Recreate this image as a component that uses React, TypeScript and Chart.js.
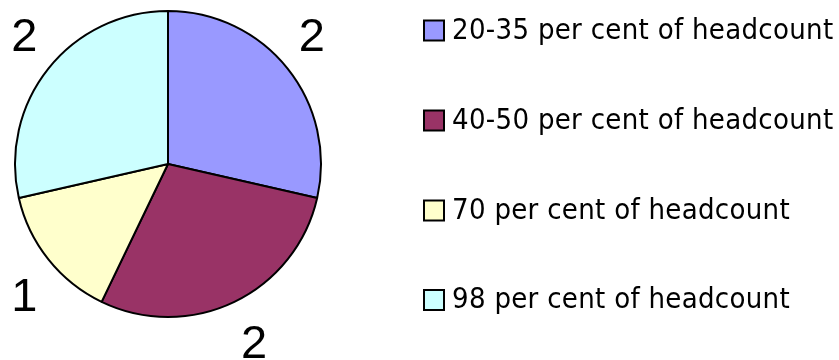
import React, { useEffect, useRef } from "react";
import { Chart, registerables } from "chart.js";

Chart.register(...registerables);

const categories = [
  "20-35 per cent of headcount",
  "40-50 per cent of headcount",
  "70 per cent of headcount",
  "98 per cent of headcount",
];
const values = [2, 2, 1, 2];
const colors = ["#9999FF", "#993366", "#FFFFCC", "#CCFFFF"];

const labelPlugin = {
  id: "outerLabels",
  afterDatasetsDraw(chart: any) {
    const ctx = chart.ctx;
    const meta = chart.getDatasetMeta(0);
    ctx.save();
    ctx.fillStyle = "#000";
    ctx.font = '47px "Liberation Sans", Arial, sans-serif';
    ctx.textAlign = "center";
    ctx.textBaseline = "alphabetic";
    const g = 13;
    const w = 28;
    const h = 54;
    meta.data.forEach((arc: any, i: number) => {
      const { x, y, startAngle, endAngle, outerRadius } = arc.getProps(
        ["x", "y", "startAngle", "endAngle", "outerRadius"],
        true
      );
      const mid = (startAngle + endAngle) / 2;
      const ux = Math.cos(mid);
      const uy = Math.sin(mid);
      const px = x + ux * (outerRadius + g) + Math.sign(ux) * (w / 2);
      const py = y + uy * (outerRadius + g) + Math.sign(uy) * (h / 2);
      ctx.fillText(String(values[i]), px, py + 17);
    });
    ctx.restore();
  },
};

const legendPlugin = {
  id: "customLegend",
  afterDraw(chart: any) {
    const ctx = chart.ctx;
    const ds = chart.data.datasets[0];
    const x0 = 424;
    const ys = [30.5, 120.5, 210.5, 300];
    const box = 20;
    ctx.save();
    ctx.font = '29px "DejaVu Sans Condensed", "DejaVu Sans", sans-serif';
    try {
      (ctx as any).letterSpacing = "0.3px";
    } catch (e) {}
    ctx.textBaseline = "alphabetic";
    chart.data.labels.forEach((lab: string, i: number) => {
      const cy = ys[i];
      ctx.fillStyle = ds.backgroundColor[i];
      ctx.fillRect(x0, cy - box / 2, box, box);
      ctx.strokeStyle = "#000";
      ctx.lineWidth = 2;
      ctx.strokeRect(x0, cy - box / 2, box, box);
      ctx.fillStyle = "#000";
      ctx.fillText(lab, 452, cy + 8);
    });
    ctx.restore();
  },
};

export default function App() {
  const ref = useRef<HTMLCanvasElement>(null);
  useEffect(() => {
    if (!ref.current) return;
    const chart = new Chart(ref.current, {
      type: "pie",
      data: {
        labels: categories,
        datasets: [
          {
            data: values,
            backgroundColor: colors,
            borderColor: "#000",
            borderWidth: 2,
          },
        ],
      },
      options: {
        animation: false,
        responsive: false,
        layout: { padding: { left: 14, top: 10, right: 517, bottom: 42 } },
        plugins: { legend: { display: false }, tooltip: { enabled: false } },
      },
      plugins: [labelPlugin, legendPlugin],
    });
    return () => chart.destroy();
  }, []);
  return (
    <div style={{ position: "absolute", left: 0, top: 0, width: 839, height: 360, background: "#fff" }}>
      <canvas ref={ref} width={839} height={360} />
    </div>
  );
}
